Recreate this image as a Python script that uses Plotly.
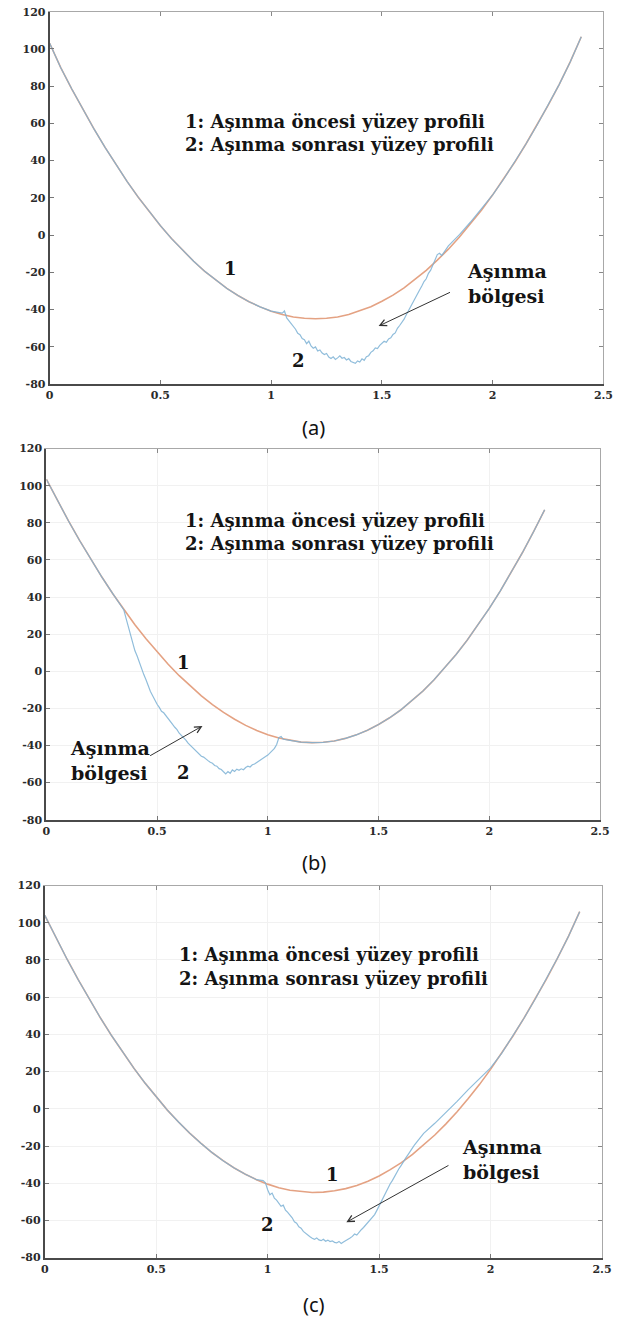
import plotly.graph_objects as go

# ---------------- data ----------------
X_TICKS = [0, 0.5, 1, 1.5, 2, 2.5]
X_TICK_TEXT = ["0", "0.5", "1", "1.5", "2", "2.5"]
Y_TICKS = [-80, -60, -40, -20, 0, 20, 40, 60, 80, 100, 120]
Y_TICK_TEXT = ["-80", "-60", "-40", "-20", "0", "20", "40", "60", "80", "100", "120"]

LEGEND_1 = "1: Aşınma öncesi yüzey profili"
LEGEND_2 = "2: Aşınma sonrası yüzey profili"
WEAR_TEXT = "Aşınma<br>bölgesi"
PANEL_LABELS = ["(a)", "(b)", "(c)"]

# panel (a)
orange_x_a = [0.00, 0.05, 0.10, 0.15, 0.20, 0.25, 0.30, 0.35, 0.40, 0.45, 0.50, 0.55, 0.60, 0.65, 0.70,
              0.75, 0.80, 0.85, 0.90, 0.95, 1.00, 1.05, 1.10, 1.15, 1.20, 1.25, 1.30, 1.35, 1.40, 1.45,
              1.50, 1.55, 1.60, 1.65, 1.70, 1.75, 1.80, 1.85, 1.90, 1.95, 2.00, 2.05, 2.10, 2.15, 2.20,
              2.25, 2.30, 2.35, 2.40]
orange_y_a = [103.0, 89.9, 78.4, 67.5, 57.0, 47.1, 37.6, 28.7, 20.3, 12.4, 5.0, -1.9, -8.3, -14.1, -19.5,
              -24.3, -28.7, -32.5, -35.8, -38.6, -40.9, -42.7, -44.0, -44.7, -45.0, -44.7, -44.0, -42.7,
              -40.8, -38.5, -35.6, -32.3, -28.4, -23.9, -19.0, -13.5, -7.6, -1.1, 6.0, 13.5, 21.6, 30.1,
              39.2, 48.9, 59.0, 69.7, 80.8, 93.0, 106.5]
wear_x_a = [1.05, 1.06, 1.07, 1.08, 1.09, 1.10, 1.11, 1.12, 1.13, 1.14, 1.15, 1.16, 1.17, 1.18, 1.19,
            1.20, 1.21, 1.22, 1.23, 1.24, 1.25, 1.26, 1.27, 1.28, 1.29, 1.30, 1.31, 1.32, 1.33, 1.34,
            1.35, 1.36, 1.37, 1.38, 1.39, 1.40, 1.41, 1.42, 1.43, 1.44, 1.45, 1.46, 1.47, 1.48, 1.49,
            1.50, 1.51, 1.52, 1.53, 1.54, 1.55, 1.56, 1.57, 1.58, 1.59, 1.60, 1.61, 1.62, 1.63, 1.64,
            1.65, 1.66, 1.67, 1.68, 1.69, 1.70, 1.71, 1.72, 1.73, 1.74, 1.75, 1.76, 1.77, 1.80, 1.85,
            1.90, 1.95]
wear_y_a = [-42.0, -40.8, -44.5, -46.0, -47.8, -49.5, -50.6, -52.8, -53.5, -55.6, -56.2, -58.4, -57.0,
            -59.6, -60.8, -60.1, -62.3, -61.7, -63.4, -64.2, -63.6, -65.5, -66.3, -65.4, -66.8, -66.0,
            -64.9, -66.2, -65.8, -67.1, -66.4, -67.9, -68.4, -68.9, -67.6, -68.2, -66.5, -67.3, -65.4,
            -64.8, -63.0, -62.2, -60.6, -61.0, -59.3, -58.4, -57.1, -57.6, -55.8, -55.2, -53.4, -52.6,
            -50.1, -48.6, -46.9, -45.2, -42.8, -40.5, -38.4, -35.7, -33.6, -31.2, -29.5, -27.4, -25.0,
            -23.5, -20.6, -18.9, -16.2, -13.8, -10.5, -9.8, -11.0, -5.8, 0.2, 7.0, 14.0]

# panel (b)
orange_x_b = [0.00, 0.05, 0.10, 0.15, 0.20, 0.25, 0.30, 0.35, 0.40, 0.45, 0.50, 0.55, 0.60, 0.65, 0.70,
              0.75, 0.80, 0.85, 0.90, 0.95, 1.00, 1.05, 1.10, 1.15, 1.20, 1.25, 1.30, 1.35, 1.40, 1.45,
              1.50, 1.55, 1.60, 1.65, 1.70, 1.75, 1.80, 1.85, 1.90, 1.95, 2.00, 2.05, 2.10, 2.15, 2.20,
              2.25]
orange_y_b = [103.5, 92.0, 81.0, 70.5, 60.4, 50.9, 41.8, 33.2, 25.1, 17.5, 10.4, 3.8, -2.4, -8.1, -13.3,
              -18.0, -22.2, -25.9, -29.2, -31.9, -34.2, -36.0, -37.3, -38.2, -38.5, -38.3, -37.6, -36.2,
              -34.3, -31.8, -28.7, -25.1, -20.9, -16.0, -10.7, -4.7, 1.9, 9.0, 16.7, 25.0, 33.9, 43.3,
              53.4, 64.0, 75.2, 87.0]
wear_x_b = [0.35, 0.36, 0.37, 0.38, 0.39, 0.40, 0.41, 0.42, 0.43, 0.44, 0.45, 0.46, 0.47, 0.48, 0.49,
            0.50, 0.51, 0.52, 0.53, 0.54, 0.55, 0.56, 0.57, 0.58, 0.59, 0.60, 0.61, 0.62, 0.63, 0.64,
            0.65, 0.66, 0.67, 0.68, 0.69, 0.70, 0.71, 0.72, 0.73, 0.74, 0.75, 0.76, 0.77, 0.78, 0.79,
            0.80, 0.81, 0.82, 0.83, 0.84, 0.85, 0.86, 0.87, 0.88, 0.89, 0.90, 0.91, 0.92, 0.93, 0.94,
            0.95, 0.96, 0.97, 0.98, 0.99, 1.00, 1.01, 1.02, 1.03, 1.04, 1.05, 1.06, 1.07]
wear_y_b = [33.0, 28.5, 24.0, 19.8, 15.2, 11.0, 8.2, 4.5, 1.3, -1.8, -4.6, -8.0, -10.9, -13.2, -16.0,
            -17.8, -19.5, -21.6, -22.4, -24.1, -25.3, -26.8, -28.7, -30.2, -31.5, -33.4, -34.6, -36.3,
            -37.1, -38.8, -40.0, -40.9, -42.3, -43.5, -44.6, -45.8, -46.3, -47.5, -48.2, -49.1, -49.6,
            -50.8, -51.2, -52.5, -53.0, -54.2, -55.3, -54.1, -55.0, -53.2, -54.0, -52.8, -53.4, -52.6,
            -53.1, -51.9, -51.2, -51.6, -50.4, -50.0, -49.1, -48.5, -47.6, -46.9, -46.0, -45.2, -43.8,
            -42.9, -41.6, -39.5, -35.8, -35.2, -36.7]

# panel (c)
orange_x_c = [0.00, 0.05, 0.10, 0.15, 0.20, 0.25, 0.30, 0.35, 0.40, 0.45, 0.50, 0.55, 0.60, 0.65, 0.70,
              0.75, 0.80, 0.85, 0.90, 0.95, 1.00, 1.05, 1.10, 1.15, 1.20, 1.25, 1.30, 1.35, 1.40, 1.45,
              1.50, 1.55, 1.60, 1.65, 1.70, 1.75, 1.80, 1.85, 1.90, 1.95, 2.00, 2.05, 2.10, 2.15, 2.20,
              2.25, 2.30, 2.35, 2.40]
orange_y_c = [104.0, 92.0, 80.4, 69.4, 58.8, 48.8, 39.3, 30.3, 21.8, 13.8, 6.3, -0.7, -7.1, -13.1, -18.5,
              -23.5, -27.9, -31.8, -35.2, -38.1, -40.5, -42.4, -43.8, -44.6, -45.0, -44.8, -44.1, -42.9,
              -41.2, -38.9, -36.1, -32.7, -28.9, -24.5, -19.5, -14.1, -8.1, -1.6, 5.5, 13.0, 21.2, 29.8,
              39.0, 48.7, 58.9, 69.6, 80.9, 92.8, 106.0]
wear_x_c = [0.98, 0.99, 1.00, 1.01, 1.02, 1.03, 1.04, 1.05, 1.06, 1.07, 1.08, 1.09, 1.10, 1.11, 1.12,
            1.13, 1.14, 1.15, 1.16, 1.17, 1.18, 1.19, 1.20, 1.21, 1.22, 1.23, 1.24, 1.25, 1.26, 1.27,
            1.28, 1.29, 1.30, 1.31, 1.32, 1.33, 1.34, 1.35, 1.36, 1.37, 1.38, 1.39, 1.40, 1.41, 1.42,
            1.43, 1.44, 1.45, 1.46, 1.47, 1.48, 1.49, 1.50, 1.51, 1.52, 1.53, 1.54, 1.55, 1.56, 1.57,
            1.58, 1.59, 1.60, 1.61, 1.62, 1.63, 1.64, 1.65, 1.66, 1.67, 1.68, 1.69, 1.70, 1.75, 1.80,
            1.85, 1.90, 1.95, 2.00]
wear_y_c = [-38.6, -39.8, -43.5, -46.2, -45.3, -48.0, -49.1, -50.6, -52.4, -51.8, -54.5, -55.7, -57.1,
            -58.6, -60.8, -61.5, -63.4, -64.2, -65.9, -67.0, -68.1, -68.8, -69.6, -70.2, -69.4, -70.5,
            -70.9, -70.1, -71.2, -70.6, -71.4, -71.0, -71.8, -72.1, -71.3, -72.4, -71.6, -71.0, -70.2,
            -69.5, -68.6, -67.3, -67.9, -66.2, -65.0, -63.8, -62.4, -61.5, -59.6, -58.3, -56.9, -54.6,
            -52.1, -50.0, -47.4, -45.1, -42.6, -40.3, -38.5, -36.2, -34.1, -32.0, -30.3, -28.1, -26.4,
            -24.6, -22.5, -21.0, -19.2, -17.8, -15.9, -14.6, -13.2, -7.8, -2.0, 4.0, 10.3, 16.0, 22.0]

# label positions (data coords) per panel
legend_pos = [(0.60, 61.0, 48.6), (0.616, 81.0, 68.6), (0.594, 82.7, 70.3)]
curve1_label = [(0.816, -17.9), (0.618, 4.5), (1.29, -35.3)]
curve2_label = [(1.125, -67.6), (0.618, -54.5), (1.00, -62.0)]
wear_label = [(1.876, -26.0), (0.096, -47.9), (1.862, -27.0)]
arrow_tail = [(1.814, -30.4), (0.462, -46.0), (1.818, -30.0)]
arrow_tip = [(1.485, -48.9), (0.705, -29.5), (1.353, -61.0)]


def blue_curve(ox, oy, wx, wy):
    start, end = wx[0], wx[-1]
    bx = [x for x in ox if x < start] + wx + [x for x in ox if x > end]
    by = [y for x, y in zip(ox, oy) if x < start] + wy + [y for x, y in zip(ox, oy) if x > end]
    return bx, by


panels = [
    (orange_x_a, orange_y_a, wear_x_a, wear_y_a),
    (orange_x_b, orange_y_b, wear_x_b, wear_y_b),
    (orange_x_c, orange_y_c, wear_x_c, wear_y_c),
]

# ---------------- layout geometry (pixels) ----------------
W, H = 633, 1326
boxes = [  # left, right, top, bottom
    (46.7, 613.0, 5.7, 381.7),
    (43.3, 609.5, 447.0, 821.7),
    (41.7, 611.5, 888.3, 1264.0),
]
label_y_px = [426, 865, 1311]
show_grid = [False, True, True]

ORANGE = "#e4a283"
BLUE = "#7db1d5"
TXT = "#141414"
SERIF = "DejaVu Serif"

fig = go.Figure()
layout = dict(width=W, height=H, margin=dict(l=0, r=0, t=0, b=0),
              paper_bgcolor="white", plot_bgcolor="white", showlegend=False)
annotations = []

for i, (ox, oy, wx, wy) in enumerate(panels):
    n = i + 1
    sfx = "" if n == 1 else str(n)
    xa, ya = "x" + sfx, "y" + sfx
    l, r, t, b = boxes[i]
    xdom = [l / W, r / W]
    ydom = [1 - b / H, 1 - t / H]
    tickfont = dict(family=SERIF, size=11, color="#2a2a2a", weight="bold")
    layout["xaxis" + sfx] = dict(domain=xdom, anchor=ya, range=[0, 2.5], tickvals=X_TICKS,
                                 ticktext=X_TICK_TEXT, ticks="inside", ticklen=4, tickcolor="#777",
                                 showline=True, linecolor="#4a4a4a", linewidth=2, showgrid=show_grid[i],
                                 gridcolor="#f1f1f1", zeroline=False, tickfont=tickfont, fixedrange=True)
    layout["yaxis" + sfx] = dict(domain=ydom, anchor=xa, range=[-80, 120], tickvals=Y_TICKS,
                                 ticktext=Y_TICK_TEXT, ticks="inside", ticklen=4, tickcolor="#777",
                                 showline=True, linecolor="#4a4a4a", linewidth=2, showgrid=show_grid[i],
                                 gridcolor="#f1f1f1", zeroline=False, tickfont=tickfont, fixedrange=True)
    # mirrored top / right frame (lighter)
    on = n + 3
    layout["xaxis" + str(on)] = dict(overlaying=xa, anchor=ya, side="top", range=[0, 2.5],
                                     tickvals=X_TICKS, showticklabels=False, ticks="inside", ticklen=4,
                                     tickcolor="#888", showline=True, linecolor="#a8a8a8", linewidth=1,
                                     showgrid=False, zeroline=False, fixedrange=True)
    layout["yaxis" + str(on)] = dict(overlaying=ya, anchor=xa, side="right", range=[-80, 120],
                                     tickvals=Y_TICKS, showticklabels=False, ticks="inside", ticklen=4,
                                     tickcolor="#888", showline=True, linecolor="#a8a8a8", linewidth=1,
                                     showgrid=False, zeroline=False, fixedrange=True)
    fig.add_trace(go.Scatter(x=[], y=[], xaxis="x" + str(on), yaxis="y" + str(on), hoverinfo="skip"))

    bx, by = blue_curve(ox, oy, wx, wy)
    fig.add_trace(go.Scatter(x=ox, y=oy, mode="lines", line=dict(color=ORANGE, width=1.6),
                             xaxis=xa, yaxis=ya, hoverinfo="skip"))
    fig.add_trace(go.Scatter(x=bx, y=by, mode="lines", line=dict(color=BLUE, width=1.2),
                             opacity=0.85, xaxis=xa, yaxis=ya, hoverinfo="skip"))

    lx, ly1, ly2 = legend_pos[i]
    for txt, yy in ((LEGEND_1, ly1), (LEGEND_2, ly2)):
        annotations.append(dict(x=lx, y=yy, xref=xa, yref=ya, text=txt, showarrow=False,
                                xanchor="left", yanchor="middle",
                                font=dict(family=SERIF, size=18, color=TXT, weight="bold")))
    for txt, (cx, cy) in (("1", curve1_label[i]), ("2", curve2_label[i])):
        annotations.append(dict(x=cx, y=cy, xref=xa, yref=ya, text=txt, showarrow=False,
                                xanchor="center", yanchor="middle",
                                font=dict(family=SERIF, size=18, color=TXT, weight="bold")))
    wxp, wyp = wear_label[i]
    annotations.append(dict(x=wxp, y=wyp, xref=xa, yref=ya, text=WEAR_TEXT, showarrow=False,
                            xanchor="left", yanchor="middle", align="left",
                            font=dict(family=SERIF, size=19, color=TXT, weight="bold")))
    (tx, ty), (hx, hy) = arrow_tail[i], arrow_tip[i]
    annotations.append(dict(x=hx, y=hy, xref=xa, yref=ya, ax=tx, ay=ty, axref=xa, ayref=ya,
                            text="", showarrow=True, arrowhead=5, arrowsize=1.3, arrowwidth=1,
                            arrowcolor="#333"))
    annotations.append(dict(x=0.5, y=1 - label_y_px[i] / H, xref="paper", yref="paper",
                            text=PANEL_LABELS[i], showarrow=False, xanchor="center", yanchor="middle",
                            font=dict(family="Noto Sans", size=20, color="#111")))

layout["annotations"] = annotations
fig.update_layout(**layout)
fig.write_html("out.html", config={"displayModeBar": False, "staticPlot": True},
               post_script="document.body.style.margin='0';document.body.style.padding='0';")
